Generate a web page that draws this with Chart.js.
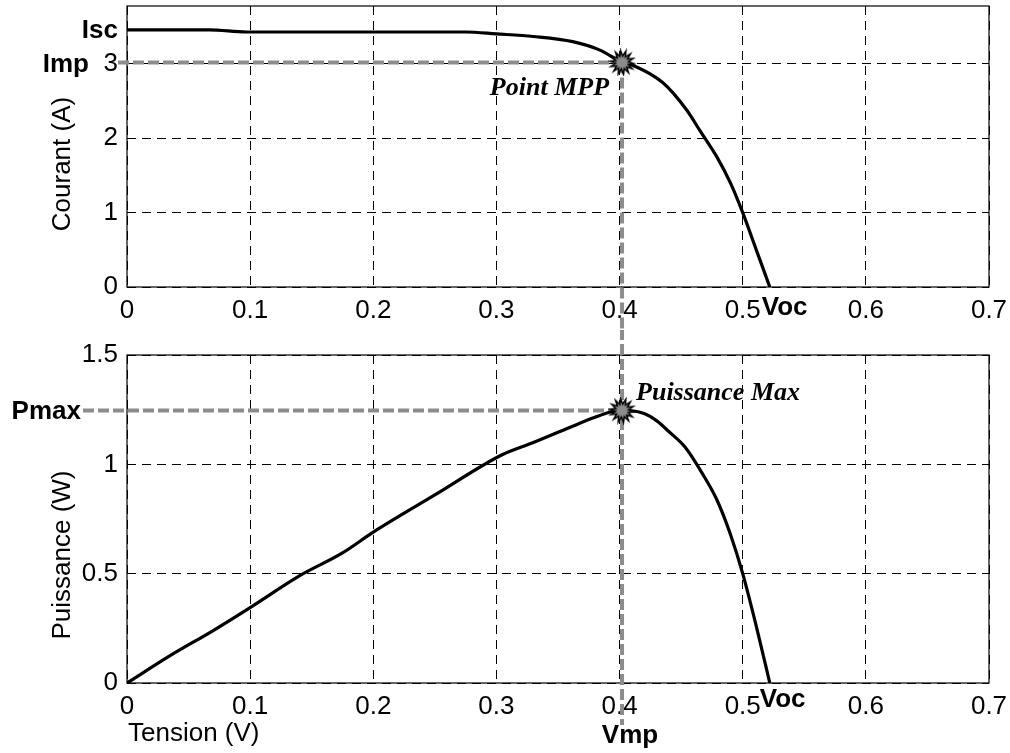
<!DOCTYPE html>
<html><head><meta charset="utf-8">
<script src="https://cdn.jsdelivr.net/npm/chart.js@4"></script>
<style>
html,body{margin:0;padding:0;background:#fff;}
#wrap{position:relative;width:1010px;height:753px;overflow:hidden;}
canvas{position:absolute;left:0;}
#c1{top:0;} #c2{top:330px;}
</style></head><body>
<div id="wrap"><canvas id="c1" width="1010" height="330"></canvas><canvas id="c2" width="1010" height="423"></canvas></div>
<script>
// ---- data ----
const tensionIV = [0, 0.067, 0.097, 0.275, 0.30, 0.33, 0.362, 0.385, 0.402, 0.411, 0.435, 0.4545, 0.465, 0.479, 0.49, 0.50, 0.511, 0.522];
const courant   = [3.46, 3.46, 3.43, 3.43, 3.405, 3.37, 3.30, 3.18, 3.02, 2.98, 2.75, 2.38, 2.11, 1.75, 1.40, 1.00, 0.50, 0];
const tensionPV = [0, 0.035, 0.07, 0.10, 0.14, 0.175, 0.20, 0.25, 0.305, 0.33, 0.36, 0.38, 0.392, 0.402, 0.41, 0.42, 0.43, 0.44, 0.453, 0.467, 0.479, 0.49, 0.50, 0.511, 0.522];
const puissance = [0, 0.125, 0.24, 0.345, 0.49, 0.595, 0.69, 0.86, 1.045, 1.10, 1.17, 1.215, 1.238, 1.246, 1.245, 1.232, 1.20, 1.15, 1.08, 0.96, 0.838, 0.68, 0.50, 0.26, 0];
const xTicks = [0, 0.1, 0.2, 0.3, 0.4, 0.5, 0.6, 0.7];
const xTickLabels = ['0', '0.1', '0.2', '0.3', '0.4', '0.5', '0.6', '0.7'];
const yTicksI = [0, 1, 2, 3];
const yTickLabelsI = ['0', '1', '2', '3'];
const yTicksP = [0, 0.5, 1, 1.5];
const yTickLabelsP = ['0', '0.5', '1', '1.5'];
const Vmp = 0.402, Imp = 3.02, Pmax = 1.246, Isc = 3.46, Voc = 0.522;

// ---- styles ----
const TICK_FONT = {family: '"Liberation Sans", Arial, sans-serif', size: 26};
const BOLD = 'bold 26px "Liberation Sans", Arial, sans-serif';
const NORMAL = '26px "Liberation Sans", Arial, sans-serif';
const SERIF_BI = 'italic bold 26px "Liberation Serif", "Times New Roman", serif';
const GRAY = '#8c8c8c';

function makeStar(){
  const c = document.createElement('canvas'); c.width = c.height = 28;
  const g = c.getContext('2d'); g.translate(14, 14); g.beginPath();
  const n = 14;
  for (let k = 0; k < 2*n; k++) {
    const r = k % 2 ? 6.5 : 12; const a = k*Math.PI/n + 0.1;
    g.lineTo(r*Math.cos(a), r*Math.sin(a));
  }
  g.closePath(); g.fillStyle = GRAY; g.fill(); g.lineWidth = 1.5; g.strokeStyle = '#000'; g.stroke();
  return c;
}
const star = makeStar();

function xScale(h){
  return {
    type: 'linear', min: 0, max: 0.7,
    afterBuildTicks: s => { s.ticks = xTicks.map(v => ({value: v})); },
    afterFit: s => { s.height = h; s.paddingLeft = 0; s.paddingRight = 0; },
    ticks: {callback: (v, i) => xTickLabels[i], font: TICK_FONT, color: '#000', padding: 8, maxRotation: 0, autoSkip: false},
    grid: {color: '#000', lineWidth: 1, drawTicks: false},
    border: {display: false, dash: [9, 6]}
  };
}
function yScale(min, max, ticks, labels, width){
  return {
    type: 'linear', min: min, max: max,
    afterBuildTicks: s => { s.ticks = ticks.map(v => ({value: v})); },
    afterFit: s => { s.width = width; s.paddingTop = 0; s.paddingBottom = 0; },
    ticks: {callback: (v, i) => labels[i], font: TICK_FONT, color: '#000', padding: 9, autoSkip: false},
    grid: {color: '#000', lineWidth: 1, drawTicks: false},
    border: {display: false, dash: [9, 6]}
  };
}

function boxPlugin(){
  return {
    id: 'box',
    beforeDatasetsDraw(chart){
      const {ctx, chartArea: a} = chart;
      ctx.save(); ctx.strokeStyle = '#000'; ctx.lineWidth = 1.2; ctx.setLineDash([]);
      ctx.strokeRect(a.left, a.top, a.right - a.left, a.bottom - a.top);
      ctx.restore();
    }
  };
}

function grayLine(ctx, x1, y1, x2, y2){
  ctx.save(); ctx.strokeStyle = GRAY; ctx.lineWidth = 4; ctx.setLineDash([11, 4]);
  ctx.beginPath(); ctx.moveTo(x1, y1); ctx.lineTo(x2, y2); ctx.stroke(); ctx.restore();
}

// ---- top chart: I-V ----
new Chart(document.getElementById('c1'), {
  type: 'line',
  data: {datasets: [
    {data: [{x: Vmp, y: Imp}], pointStyle: star, pointRadius: 12, showLine: false, borderColor: '#000', backgroundColor: GRAY},
    {data: tensionIV.map((v, k) => ({x: v, y: courant[k]})), borderColor: '#000', borderWidth: 3.2, pointRadius: 0, cubicInterpolationMode: 'monotone', fill: false}
  ]},
  options: {
    responsive: false, animation: false, devicePixelRatio: 1,
    layout: {autoPadding: false, padding: {left: 0, top: 6, right: 21, bottom: 0}},
    plugins: {legend: {display: false}, tooltip: {enabled: false}},
    scales: {
      x: xScale(43),
      y: yScale(0, 3.78, yTicksI, yTickLabelsI, 127)
    }
  },
  plugins: [boxPlugin(), {
    id: 'annTop',
    beforeDatasetsDraw(chart){
      const {ctx, scales: {x, y}, chartArea: a} = chart;
      const px = x.getPixelForValue(Vmp), py = y.getPixelForValue(Imp);
      grayLine(ctx, a.left - 9, py, px, py);
      grayLine(ctx, px, py, px, chart.height);
    },
    afterDraw(chart){
      const {ctx, scales: {x, y}, chartArea: a} = chart;
      const px = x.getPixelForValue(Vmp), py = y.getPixelForValue(Imp);
      ctx.save(); ctx.fillStyle = '#000';
      ctx.font = BOLD; ctx.textBaseline = 'middle';
      ctx.textAlign = 'right';
      ctx.fillText('Isc', a.left - 9, y.getPixelForValue(Isc) + 1);
      ctx.fillText('Imp', a.left - 38, py + 2);
      ctx.textAlign = 'left';
      ctx.fillText('Voc', x.getPixelForValue(Voc) - 8, a.bottom + 21);
      ctx.font = SERIF_BI; ctx.textAlign = 'right'; ctx.textBaseline = 'alphabetic';
      ctx.fillText('Point MPP', px - 13, py + 33);
      // y title
      ctx.font = NORMAL; ctx.textAlign = 'center';
      ctx.translate(70, 164); ctx.rotate(-Math.PI/2);
      ctx.fillText('Courant (A)', 0, 0);
      ctx.restore();
    }
  }]
});

// ---- bottom chart: P-V ----
new Chart(document.getElementById('c2'), {
  type: 'line',
  data: {datasets: [
    {data: [{x: Vmp, y: Pmax}], pointStyle: star, pointRadius: 12, showLine: false, borderColor: '#000', backgroundColor: GRAY},
    {data: tensionPV.map((v, k) => ({x: v, y: puissance[k]})), borderColor: '#000', borderWidth: 3.2, pointRadius: 0, cubicInterpolationMode: 'monotone', fill: false}
  ]},
  options: {
    responsive: false, animation: false, devicePixelRatio: 1,
    layout: {autoPadding: false, padding: {left: 0, top: 25, right: 21, bottom: 0}},
    plugins: {legend: {display: false}, tooltip: {enabled: false}},
    scales: {
      x: xScale(70),
      y: yScale(0, 1.5, yTicksP, yTickLabelsP, 127)
    }
  },
  plugins: [boxPlugin(), {
    id: 'annBot',
    beforeDatasetsDraw(chart){
      const {ctx, scales: {x, y}, chartArea: a} = chart;
      const px = x.getPixelForValue(Vmp), py = y.getPixelForValue(Pmax);
      grayLine(ctx, a.left - 44, py, px, py);
      grayLine(ctx, px, -1, px, a.bottom + 42);
    },
    afterDraw(chart){
      const {ctx, scales: {x, y}, chartArea: a} = chart;
      const px = x.getPixelForValue(Vmp), py = y.getPixelForValue(Pmax);
      ctx.save(); ctx.fillStyle = '#000';
      ctx.font = BOLD; ctx.textBaseline = 'middle';
      ctx.textAlign = 'right';
      ctx.fillText('Pmax', a.left - 46, py + 1);
      ctx.textAlign = 'left';
      ctx.fillText('Voc', x.getPixelForValue(Voc) - 10, a.bottom + 17);
      ctx.textAlign = 'center'; ctx.textBaseline = 'alphabetic';
      ctx.fillText('Vmp', px + 8, a.bottom + 60);
      ctx.font = SERIF_BI; ctx.textAlign = 'left';
      ctx.fillText('Puissance Max', px + 14, py - 11);
      ctx.font = NORMAL; ctx.textAlign = 'left';
      ctx.fillText('Tension (V)', a.left + 1, a.bottom + 58);
      ctx.textAlign = 'center';
      ctx.translate(70, 225); ctx.rotate(-Math.PI/2);
      ctx.fillText('Puissance (W)', 0, 0);
      ctx.restore();
    }
  }]
});
</script>
</body></html>
